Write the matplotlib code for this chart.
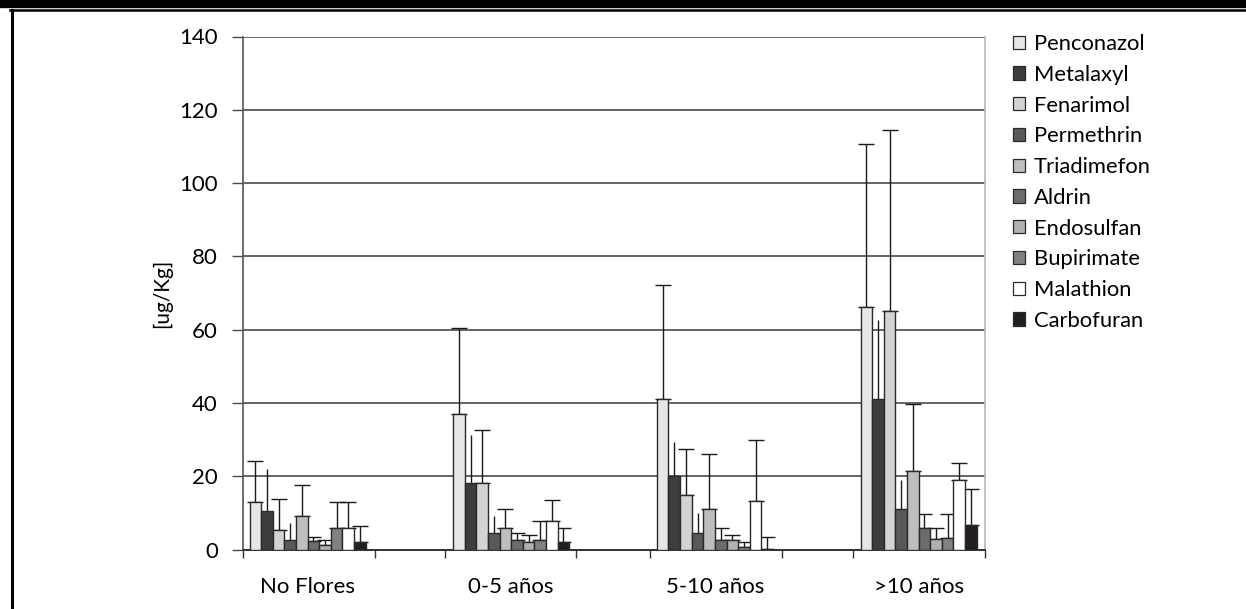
import matplotlib
matplotlib.use("Agg")
import matplotlib.pyplot as plt
import numpy as np
from matplotlib.patches import Rectangle
from matplotlib.lines import Line2D

plt.rcParams['font.family'] = ['Lato', 'DejaVu Sans']

categories = ["No Flores", "0-5 años", "5-10 años", ">10 años"]
series = ["Penconazol", "Metalaxyl", "Fenarimol", "Permethrin", "Triadimefon",
          "Aldrin", "Endosulfan", "Bupirimate", "Malathion", "Carbofuran"]

# mean values per series (order of categories)
Penconazol  = [13.0, 37.1, 41.0, 66.3]
Metalaxyl   = [10.5, 18.2, 20.1, 41.0]
Fenarimol   = [5.2, 18.2, 15.0, 65.1]
Permethrin  = [2.6, 4.6, 4.6, 11.0]
Triadimefon = [9.1, 5.9, 11.1, 21.5]
Aldrin      = [2.4, 2.6, 2.6, 5.8]
Endosulfan  = [1.2, 2.0, 2.6, 3.0]
Bupirimate  = [5.9, 2.6, 0.8, 3.1]
Malathion   = [5.9, 7.8, 13.1, 18.9]
Carbofuran  = [2.0, 2.0, 0.1, 6.6]

# upper end of error bars (mean + sd)
Penconazol_hi  = [24.2, 60.5, 72.2, 110.7]
Metalaxyl_hi   = [22.1, 31.2, 29.4, 62.6]
Fenarimol_hi   = [13.7, 32.6, 27.3, 114.5]
Permethrin_hi  = [7.1, 9.2, 9.9, 19.0]
Triadimefon_hi = [17.6, 11.0, 26.1, 39.7]
Aldrin_hi      = [3.3, 4.6, 5.9, 9.8]
Endosulfan_hi  = [2.6, 4.0, 4.0, 5.9]
Bupirimate_hi  = [13.0, 7.8, 2.0, 9.8]
Malathion_hi   = [13.0, 13.6, 30.0, 23.5]
Carbofuran_hi  = [6.5, 5.9, 3.3, 16.4]

values = [Penconazol, Metalaxyl, Fenarimol, Permethrin, Triadimefon,
          Aldrin, Endosulfan, Bupirimate, Malathion, Carbofuran]
highs = [Penconazol_hi, Metalaxyl_hi, Fenarimol_hi, Permethrin_hi, Triadimefon_hi,
         Aldrin_hi, Endosulfan_hi, Bupirimate_hi, Malathion_hi, Carbofuran_hi]

yticks = [0, 20, 40, 60, 80, 100, 120, 140]

colors = ["#e6e7e9", "#3d3d3d", "#d2d3d5", "#58595b", "#bdbec0",
          "#6b6c6e", "#b0b1b3", "#808183", "#ffffff", "#231f20"]
capsizes = [6, 0, 6, 0, 6, 6, 6, 6, 6, 6]

W, H = 1246, 609
fig = plt.figure(figsize=(W / 100, H / 100), dpi=100)
ax = fig.add_axes([243 / W, 1 - 549.5 / H, (985 - 243) / W, (549.5 - 36.5) / H])

bw = 0.057
start = 0.032
xg = np.arange(len(categories))
for j, (name, v, hi) in enumerate(zip(series, values, highs)):
    x = xg + start + (j + 0.5) * bw
    v = np.array(v)
    err = np.array(hi) - v
    ax.bar(x, v, width=bw, color=colors[j], edgecolor="#2a2a2a", linewidth=1.0,
           label=name, zorder=3)
    ax.errorbar(x, v, yerr=[np.zeros_like(err), err], fmt="none", ecolor="#1a1a1a",
                elinewidth=1.0, capsize=capsizes[j], capthick=1.0, zorder=2)

ax.set_ylim(0, 140)
ax.set_xlim(0, 3.643)
ax.set_yticks(yticks)
ax.set_yticklabels([str(t) for t in yticks], fontsize=16)
ax.yaxis.grid(True, color="#4a4a4a", linewidth=1.2, zorder=0)
ax.set_axisbelow(True)
ax.tick_params(axis="y", length=8, width=1.0, color="#4a4a4a", pad=10)

ax.set_xticks([0, 0.648, 0.993, 1.636, 1.999, 2.646, 2.994, 3.643])
ax.set_xticklabels([])
ax.tick_params(axis="x", length=6, width=1.0, color="#333333")
for i, c in enumerate(categories):
    ax.annotate(c, xy=(start + 5 * bw + i, 0), xycoords=("data", "axes fraction"),
                xytext=(0, -31.5), textcoords="offset points", ha="center",
                va="baseline", fontsize=16)

ax.spines["top"].set_visible(False)
ax.spines["right"].set_color("#b8b8b8")
ax.spines["right"].set_linewidth(1.2)
ax.spines["left"].set_color("#555555")
ax.spines["left"].set_linewidth(1.2)
ax.spines["bottom"].set_color("#333333")
ax.spines["bottom"].set_linewidth(1.4)

ax.set_ylabel("[ug/Kg]", fontsize=15, labelpad=5)

leg = fig.legend(loc="upper left", bbox_to_anchor=(1013 / W, 1 - 34 / H),
                 frameon=False, fontsize=15.8, handlelength=0.55, handleheight=0.55,
                 handletextpad=0.4, labelspacing=0.49, borderpad=0, borderaxespad=0)
for h in leg.legend_handles:
    h.set_edgecolor("#2a2a2a")
    h.set_linewidth(0.9)

# page frame
fig.add_artist(Rectangle((0, 1 - 7 / H), 1, 7 / H, transform=fig.transFigure,
                         color="black", zorder=10))
fig.add_artist(Line2D([10 / W, 1], [1 - 10 / H, 1 - 10 / H], transform=fig.transFigure,
                      color="black", linewidth=1.8))
fig.add_artist(Line2D([11.5 / W, 11.5 / W], [0, 1 - 10 / H], transform=fig.transFigure,
                      color="black", linewidth=2.2))

fig.savefig("out.png", dpi=100)
